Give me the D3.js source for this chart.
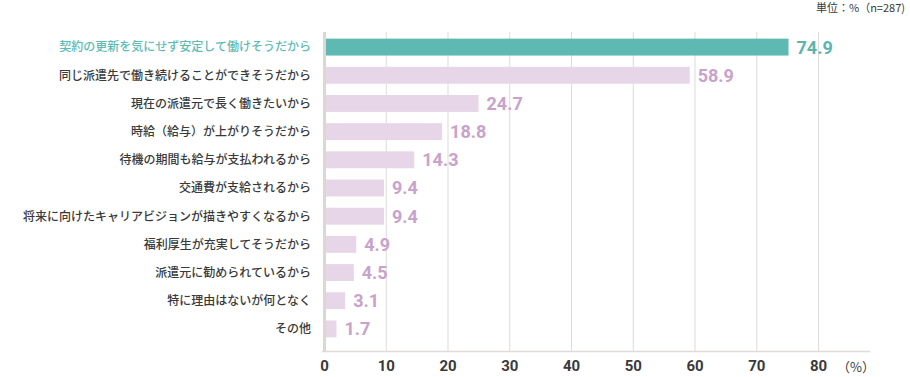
<!DOCTYPE html>
<html>
<head>
<meta charset="utf-8">
<script src="https://cdnjs.cloudflare.com/ajax/libs/d3/7.8.5/d3.min.js"></script>
<style>
  body { margin: 0; background: #fff; }
  text { font-family: "Noto Sans CJK JP", "Noto Sans", sans-serif; }
  .num { font-family: Roboto, "Noto Sans", sans-serif; font-weight: 700; }
</style>
</head>
<body>
<div id="vis"></div>
<script>
// reasons and shares (%), n=287
var reasons = [
    "契約の更新を気にせず安定して働けそうだから",
    "同じ派遣先で働き続けることができそうだから",
    "現在の派遣元で長く働きたいから",
    "時給（給与）が上がりそうだから",
    "待機の期間も給与が支払われるから",
    "交通費が支給されるから",
    "将来に向けたキャリアビジョンが描きやすくなるから",
    "福利厚生が充実してそうだから",
    "派遣元に勧められているから",
    "特に理由はないが何となく",
    "その他"
];
var shares = [74.9, 58.9, 24.7, 18.8, 14.3, 9.4, 9.4, 4.9, 4.5, 3.1, 1.7];
var ticks = [0, 10, 20, 30, 40, 50, 60, 70, 80];

var data = reasons.map(function(d, i) { return {reason: d, value: shares[i]}; });

var width = 910, height = 377;
var margin = {top: 33, left: 324, bottom: 34};
var plotBottom = 351;

var svg = d3.select("#vis").append("svg")
    .attr("width", width)
    .attr("height", height);

var xScale = d3.scaleLinear().domain([0, 80]).range([margin.left, 818]);
var yScale = d3.scaleBand().domain(reasons).range([margin.top, 343]).paddingInner(0.4).paddingOuter(0.2);

// grid lines
svg.append("g").selectAll("line").data(ticks.slice(1)).enter().append("line")
    .attr("x1", function(d) { return xScale(d) + 0.5; })
    .attr("x2", function(d) { return xScale(d) + 0.5; })
    .attr("y1", 32).attr("y2", plotBottom)
    .attr("stroke", "#dedbd8").attr("stroke-width", 1);

// baseline
svg.append("line")
    .attr("x1", xScale(0) - 2).attr("x2", 870)
    .attr("y1", plotBottom + 0.5).attr("y2", plotBottom + 0.5)
    .attr("stroke", "#dedbd8").attr("stroke-width", 1.5);

// bars
svg.append("g").selectAll("rect").data(data).enter().append("rect")
    .attr("x", xScale(0) + 2)
    .attr("y", function(d) { return yScale(d.reason); })
    .attr("width", function(d) { return xScale(d.value) - xScale(0); })
    .attr("height", yScale.bandwidth())
    .attr("fill", function(d, i) { return i == 0 ? "#5db9b1" : "#e6d6e8"; });

// y axis line (thick)
svg.append("line")
    .attr("x1", xScale(0) + 0.5).attr("x2", xScale(0) + 0.5)
    .attr("y1", 32).attr("y2", plotBottom)
    .attr("stroke", "#dcd7d3").attr("stroke-width", 3);

// category labels
svg.append("g").selectAll("text").data(data).enter().append("text")
    .attr("x", 311)
    .attr("y", function(d) { return yScale(d.reason) + yScale.bandwidth() / 2; })
    .attr("dy", "0.36em")
    .attr("text-anchor", "end")
    .attr("font-size", 12)
    .attr("font-weight", 500)
    .attr("fill", function(d, i) { return i == 0 ? "#5bbcb5" : "#3a3a3a"; })
    .text(function(d) { return d.reason; });

// value labels
svg.append("g").selectAll("text").data(data).enter().append("text")
    .attr("class", "num")
    .attr("x", function(d) { return xScale(d.value) + 10; })
    .attr("y", function(d) { return yScale(d.reason) + yScale.bandwidth() / 2; })
    .attr("dy", "0.36em")
    .attr("font-size", 18)
    .attr("fill", function(d, i) { return i == 0 ? "#5bb5ae" : "#c9a2cc"; })
    .text(function(d) { return d.value.toFixed(1); });

// x axis tick labels
var xAxis = d3.axisBottom(xScale).tickValues(ticks).tickSize(0).tickPadding(9);
var axisG = svg.append("g")
    .attr("transform", "translate(0," + plotBottom + ")")
    .call(xAxis);
axisG.select(".domain").remove();
axisG.selectAll("text")
    .attr("class", "num")
    .attr("font-size", 15)
    .attr("fill", "#3a3a3a");

svg.append("text")
    .attr("x", 856).attr("y", 367)
    .attr("dy", "0.36em")
    .attr("text-anchor", "middle")
    .attr("font-size", 13)
    .attr("fill", "#3a3a3a")
    .text("（%）");

svg.append("text")
    .attr("x", 905).attr("y", 8)
    .attr("dy", "0.36em")
    .attr("text-anchor", "end")
    .attr("font-size", 11)
    .attr("fill", "#3a3a3a")
    .text("単位：%（n=287)");
</script>
</body>
</html>
